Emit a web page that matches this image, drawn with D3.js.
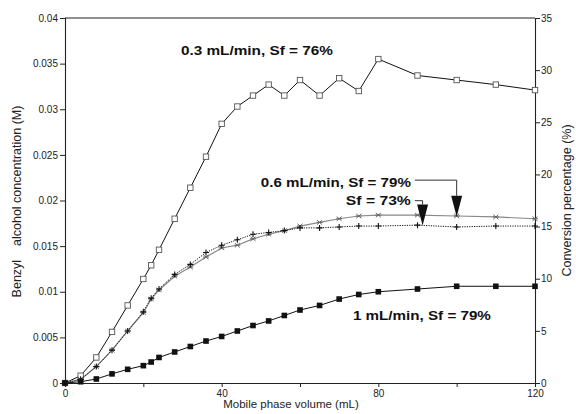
<!DOCTYPE html>
<html>
<head>
<meta charset="utf-8">
<script src="https://cdn.jsdelivr.net/npm/d3@7"></script>
<style>
  body { margin: 0; background: #fff; }
  svg { display: block; font-family: "Liberation Sans", Arial, sans-serif; }
</style>
</head>
<body>
<div id="chart"></div>
<script>
const width = 576;
const height = 414;

// Mobile phase volume (mL), shared by all runs
const volume = [0, 4, 8, 12, 16, 20, 22, 24, 28, 32, 36, 40, 44, 48, 52, 56, 60, 65, 70, 75, 80, 90, 100, 110, 120];

// Benzyl alcohol concentration (M)
const conc03 = [0, 0.0008, 0.0028, 0.0056, 0.0085, 0.0114, 0.0129, 0.0146, 0.0180, 0.0214, 0.0248, 0.0284, 0.0303,
  0.0315, 0.0327, 0.0315, 0.0332, 0.0315, 0.0334, 0.0320, 0.0355, 0.0337, 0.0332, 0.0327, 0.0321];
const conc06sf79 = [0, 0.0004, 0.0018, 0.0036, 0.0057, 0.0077, 0.0092, 0.0102, 0.0117, 0.0127, 0.0138, 0.0148, 0.0151,
  0.0158, 0.0163, 0.0167, 0.0172, 0.0176, 0.0180, 0.0183, 0.0184, 0.0184, 0.0183, 0.0182, 0.0180];
const conc06sf73 = [0, 0.0004, 0.0018, 0.0036, 0.0057, 0.0078, 0.0093, 0.0103, 0.0119, 0.0130, 0.0143, 0.0151, 0.0157,
  0.0163, 0.0165, 0.0167, 0.0170, 0.0170, 0.0171, 0.0172, 0.0172, 0.0173, 0.0171, 0.0172, 0.0172];
const conc1 = [0, 0.00014, 0.00044, 0.0010, 0.0015, 0.0019, 0.0023, 0.0028, 0.0034, 0.0040, 0.0046, 0.0051, 0.0057,
  0.0063, 0.0068, 0.0074, 0.0080, 0.0085, 0.0092, 0.0097, 0.0100, 0.0103, 0.0106, 0.0106, 0.0106];

const xTicks = [0, 20, 40, 60, 80, 100, 120];
const xLabels = [0, 40, 80, 120];
const yTicks = [0, 0.005, 0.01, 0.015, 0.02, 0.025, 0.03, 0.035, 0.04];
const y2Ticks = [0, 5, 10, 15, 20, 25, 30, 35];

const margin = { top: 18, right: 41, bottom: 31, left: 65 };

const x = d3.scaleLinear().domain([0, 120]).range([margin.left, width - margin.right]);
const y = d3.scaleLinear().domain([0, 0.04]).range([height - margin.bottom, margin.top]);
const y2 = d3.scaleLinear().domain([0, 35]).range([height - margin.bottom, margin.top]);

const svg = d3.select("#chart")
  .append("svg")
  .attr("width", width)
  .attr("height", height);

// axes
const xAxis = svg.append("g")
  .attr("transform", `translate(0,${y(0)})`)
  .call(d3.axisBottom(x).tickValues(xTicks).tickSize(4).tickPadding(3)
    .tickFormat(d => xLabels.includes(d) ? d : ""));

const yAxis = svg.append("g")
  .attr("transform", `translate(${x(0)},0)`)
  .call(d3.axisLeft(y).tickValues(yTicks).tickSize(5).tickPadding(2)
    .tickFormat(d => String(+d.toFixed(3))));

const y2Axis = svg.append("g")
  .attr("transform", `translate(${x(120)},0)`)
  .call(d3.axisRight(y2).tickValues(y2Ticks).tickSize(5).tickPadding(1));

[xAxis, yAxis, y2Axis].forEach(g => {
  g.select(".domain").attr("stroke", "#222").attr("stroke-width", 1.1);
  g.selectAll(".tick line").attr("stroke", "#222");
  g.selectAll(".tick text").attr("font-size", 10).attr("fill", "#222")
    .attr("font-family", "'Liberation Sans', Arial, sans-serif");
});

// top frame line
svg.append("line")
  .attr("x1", x(0)).attr("x2", x(120))
  .attr("y1", y(0.04)).attr("y2", y(0.04))
  .attr("stroke", "#222").attr("stroke-width", 1.1);

// axis titles
svg.append("text")
  .attr("x", 291)
  .attr("y", 408)
  .attr("text-anchor", "middle")
  .attr("font-size", 11.5)
  .attr("fill", "#222")
  .text("Mobile phase volume (mL)");

svg.append("text")
  .attr("transform", `translate(21,${(y(0) + y(0.04)) / 2 + 1}) rotate(-90)`)
  .attr("text-anchor", "middle")
  .attr("font-size", 12.5)
  .attr("fill", "#222")
  .attr("xml:space", "preserve")
  .style("white-space", "pre")
  .text("Benzyl    alcohol concentration (M)");

svg.append("text")
  .attr("transform", `translate(571,${(y(0) + y(0.04)) / 2}) rotate(-90)`)
  .attr("text-anchor", "middle")
  .attr("font-size", 12.5)
  .attr("fill", "#222")
  .text("Conversion percentage (%)");

// lines
const line = d3.line()
  .x((d, i) => x(volume[i]))
  .y(d => y(d));

const series = [
  { name: "0.3", values: conc03, stroke: "#111", dash: null, width: 1, marker: "openSquare" },
  { name: "0.6-79", values: conc06sf79, stroke: "#888", dash: null, width: 1.2, marker: "asterisk" },
  { name: "0.6-73", values: conc06sf73, stroke: "#111", dash: "1.2,1.2", width: 1, marker: "plus" },
  { name: "1", values: conc1, stroke: "#111", dash: null, width: 1, marker: "filledSquare" }
];

series.forEach(s => {
  svg.append("path")
    .datum(s.values)
    .attr("fill", "none")
    .attr("stroke", s.stroke)
    .attr("stroke-width", s.width)
    .attr("stroke-dasharray", s.dash)
    .attr("d", line);

  const g = svg.append("g");
  const pts = g.selectAll("g")
    .data(s.values)
    .enter()
    .append("g")
    .attr("transform", (d, i) => `translate(${x(volume[i])},${y(d)})`);

  if (s.marker === "openSquare") {
    pts.append("rect")
      .attr("x", -2.7).attr("y", -2.7).attr("width", 5.4).attr("height", 5.4)
      .attr("fill", "#fff").attr("stroke", "#555").attr("stroke-width", 0.9);
  } else if (s.marker === "filledSquare") {
    pts.append("rect")
      .attr("x", -2.8).attr("y", -2.8).attr("width", 5.6).attr("height", 5.6)
      .attr("fill", "#111");
  } else if (s.marker === "plus") {
    pts.append("path")
      .attr("d", "M-3,0H3M0,-3V3")
      .attr("stroke", "#111").attr("stroke-width", 1.1);
  } else if (s.marker === "asterisk") {
    pts.append("path")
      .attr("d", "M-2.5,-2.2L2.5,2.2M-2.5,2.2L2.5,-2.2M-3,0H3")
      .attr("stroke", "#666").attr("stroke-width", 1);
  }
});

// labels
const labels = [
  { text: "0.3 mL/min, Sf = 76%", vol: 29.6, conc: 0.03595, len: 152, anchor: "start" },
  { text: "0.6 mL/min, Sf = 79%", vol: 88.3, conc: 0.0215, len: 150, anchor: "end" },
  { text: "Sf = 73%", vol: 88.3, conc: 0.0195, len: 65, anchor: "end" },
  { text: "1 mL/min, Sf = 79%", vol: 73.5, conc: 0.0069, len: 138, anchor: "start" }
];

svg.selectAll(".lab")
  .data(labels)
  .enter()
  .append("text")
  .attr("class", "lab")
  .attr("x", d => d.anchor === "end" ? x(d.vol) - d.len : x(d.vol))
  .attr("y", d => y(d.conc))
  .attr("font-size", 12)
  .attr("font-weight", "bold")
  .attr("fill", "#111")
  .attr("textLength", d => d.len)
  .attr("lengthAdjust", "spacingAndGlyphs")
  .text(d => d.text);

// arrows: leader from label end, then down to an arrowhead
const arrows = [
  { fromVol: 89.3, leadConc: 0.02223, tipVol: 100, tipConc: 0.01822 },
  { fromVol: 89.3, leadConc: 0.01998, tipVol: 91.3, tipConc: 0.01726 }
];

arrows.forEach(a => {
  const tipX = x(a.tipVol), tipY = y(a.tipConc);
  const headH = 21, headW = 11;
  svg.append("path")
    .attr("d", `M${x(a.fromVol)},${y(a.leadConc)}H${tipX}V${tipY - headH}`)
    .attr("fill", "none")
    .attr("stroke", "#333")
    .attr("stroke-width", 1);
  svg.append("path")
    .attr("d", `M${tipX - headW / 2},${tipY - headH}L${tipX + headW / 2},${tipY - headH}L${tipX},${tipY}Z`)
    .attr("fill", "#111");
});
</script>
</body>
</html>
